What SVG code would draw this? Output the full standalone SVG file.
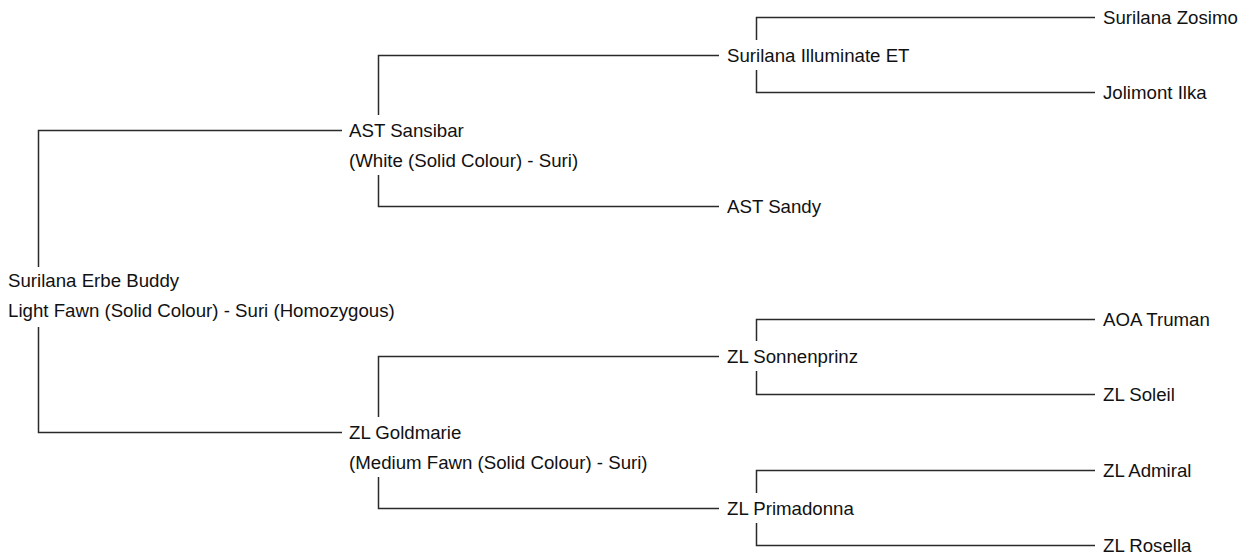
<svg xmlns="http://www.w3.org/2000/svg" width="1243" height="556" viewBox="0 0 1243 556">
<style>
.t{font-family:"Liberation Sans",Arial,sans-serif;font-size:18.67px;fill:#111}
.c{fill:none;stroke:#2a2a2a;stroke-width:1.5}
</style>
<rect width="1243" height="556" fill="#fff"/>
<g id="connectors">
<path class="c" d="M342 130.5H38.5V267M38.5 327V432.5H342"/>
<path class="c" d="M719 55.5H378.5V115M378.5 175V206.5H719"/>
<path class="c" d="M719 356.5H378.5V417M378.5 477V508.5H719"/>
<path class="c" d="M1095 17.5H756.5V40M756.5 70V92.5H1095"/>
<path class="c" d="M1095 319.5H756.5V341M756.5 371V394.5H1095"/>
<path class="c" d="M1095 470.5H756.5V493M756.5 523V545.5H1095"/>
</g>
<g id="root"><text class="t" x="8" y="287">Surilana Erbe Buddy</text><text class="t" x="8" y="317">Light Fawn (Solid Colour) - Suri (Homozygous)</text></g>
<g id="ast-sansibar"><text class="t" x="349" y="137">AST Sansibar</text><text class="t" x="349" y="167">(White (Solid Colour) - Suri)</text></g>
<g id="zl-goldmarie"><text class="t" x="349" y="439">ZL Goldmarie</text><text class="t" x="349" y="469">(Medium Fawn (Solid Colour) - Suri)</text></g>
<g id="surilana-illuminate-et"><text class="t" x="727" y="62">Surilana Illuminate ET</text></g>
<g id="ast-sandy"><text class="t" x="727" y="213">AST Sandy</text></g>
<g id="zl-sonnenprinz"><text class="t" x="727" y="363">ZL Sonnenprinz</text></g>
<g id="zl-primadonna"><text class="t" x="727" y="515">ZL Primadonna</text></g>
<g id="surilana-zosimo"><text class="t" x="1103" y="24">Surilana Zosimo</text></g>
<g id="jolimont-ilka"><text class="t" x="1103" y="99">Jolimont Ilka</text></g>
<g id="aoa-truman"><text class="t" x="1103" y="326">AOA Truman</text></g>
<g id="zl-soleil"><text class="t" x="1103" y="401">ZL Soleil</text></g>
<g id="zl-admiral"><text class="t" x="1103" y="477">ZL Admiral</text></g>
<g id="zl-rosella"><text class="t" x="1103" y="552">ZL Rosella</text></g>
</svg>
